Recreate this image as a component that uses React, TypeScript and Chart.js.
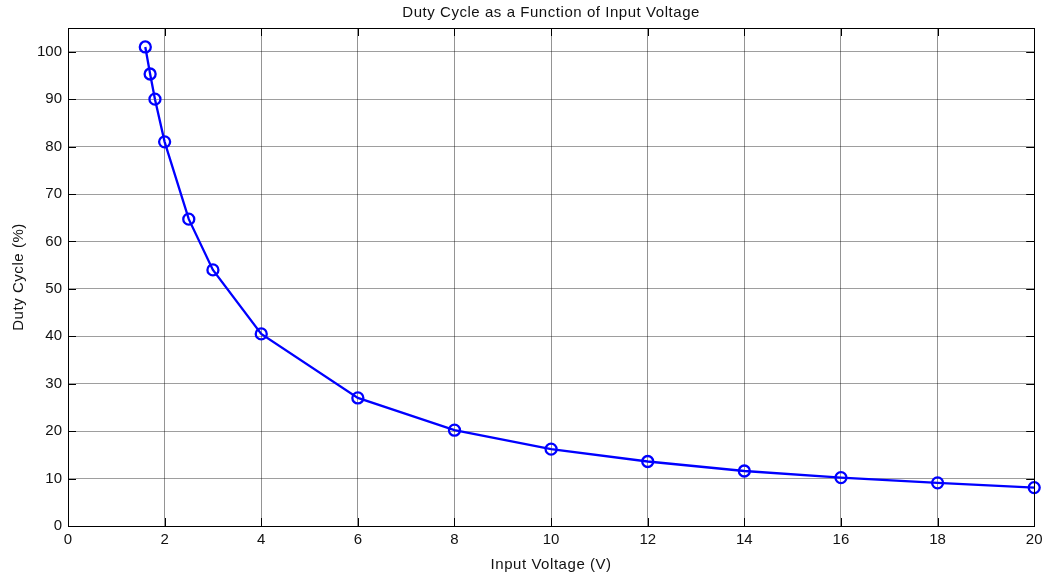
import React, { useEffect, useRef } from "react";
import { Chart, registerables } from "chart.js";

Chart.register(...registerables);

const voltages = [1.6, 1.7, 1.8, 2, 2.5, 3, 4, 6, 8, 10, 12, 14, 16, 18, 20];
const duty = [101, 95.3, 90, 81, 64.7, 54, 40.5, 27, 20.2, 16.2, 13.6, 11.6, 10.2, 9.1, 8.1];
const xTicks = [0, 2, 4, 6, 8, 10, 12, 14, 16, 18, 20];
const yTicks = [0, 10, 20, 30, 40, 50, 60, 70, 80, 90, 100];

const titleText = "Duty Cycle as a Function of Input Voltage";
const xLabel = "Input Voltage (V)";
const yLabel = "Duty Cycle (%)";

const FONT = "'Liberation Sans', Arial, sans-serif";

const framePlugin = {
  id: "frame",
  afterDraw(chart: any) {
    const { ctx, chartArea } = chart;
    const { left, right, top, bottom } = chartArea;
    const xs = chart.scales.x;
    const ys = chart.scales.y;
    ctx.save();
    ctx.strokeStyle = "#000";
    ctx.lineWidth = 1;
    ctx.strokeRect(Math.round(left) + 0.5, Math.round(top) + 0.5, Math.round(right - left), Math.round(bottom - top));
    const tl = 8;
    ctx.beginPath();
    xTicks.forEach((v) => {
      const px = Math.round(xs.getPixelForValue(v)) + 0.5;
      ctx.moveTo(px, bottom);
      ctx.lineTo(px, bottom - tl);
      ctx.moveTo(px, top);
      ctx.lineTo(px, top + tl);
    });
    yTicks.forEach((v) => {
      const py = Math.round(ys.getPixelForValue(v)) + 0.5;
      ctx.moveTo(left, py);
      ctx.lineTo(left + tl, py);
      ctx.moveTo(right, py);
      ctx.lineTo(right - tl, py);
    });
    ctx.stroke();
    ctx.fillStyle = "#111";
    ctx.font = `15px ${FONT}`;
    (ctx as any).letterSpacing = "0.55px";
    ctx.textAlign = "center";
    ctx.textBaseline = "alphabetic";
    ctx.fillText(titleText, (left + right) / 2, 17);
    ctx.fillText(xLabel, (left + right) / 2, 569);
    ctx.translate(23, (top + bottom) / 2);
    ctx.rotate(-Math.PI / 2);
    ctx.fillText(yLabel, 0, 0);
    ctx.restore();
  },
};

export default function App() {
  const canvasRef = useRef<HTMLCanvasElement | null>(null);

  useEffect(() => {
    document.body.style.margin = "0";
    const canvas = canvasRef.current;
    if (!canvas) return;
    const points = voltages.map((v, i) => ({ x: v, y: duty[i] }));
    const chart = new Chart(canvas, {
      type: "line",
      data: {
        datasets: [
          {
            data: points,
            borderColor: "#0000FF",
            borderWidth: 2.3,
            pointRadius: 5.5,
            pointBorderWidth: 2.3,
            pointBorderColor: "#0000FF",
            pointBackgroundColor: "rgba(0,0,0,0)",
            pointHoverRadius: 5.5,
            tension: 0,
            clip: false as any,
          },
        ],
      },
      options: {
        animation: false,
        responsive: false,
        devicePixelRatio: 1,
        layout: { padding: { top: 28, right: 7, bottom: 0, left: 0 } },
        plugins: {
          legend: { display: false },
          title: { display: false },
          tooltip: { enabled: false },
        },
        scales: {
          x: {
            type: "linear",
            min: 0,
            max: 20,
            afterBuildTicks: (s: any) => {
              s.ticks = xTicks.map((v) => ({ value: v }));
            },
            afterFit: (s: any) => {
              s.height = 47;
              s.paddingLeft = 0;
              s.paddingRight = 0;
            },
            grid: { color: "rgba(0,0,0,0.42)", drawTicks: false, lineWidth: 1 },
            border: { display: false },
            ticks: {
              color: "#111",
              padding: 5,
              maxRotation: 0,
              font: { family: FONT, size: 15 },
            },
          },
          y: {
            type: "linear",
            min: 0,
            max: 105,
            afterBuildTicks: (s: any) => {
              s.ticks = yTicks.map((v) => ({ value: v }));
            },
            afterFit: (s: any) => {
              s.width = 68;
              s.paddingTop = 0;
              s.paddingBottom = 0;
            },
            grid: { color: "rgba(0,0,0,0.38)", drawTicks: false, lineWidth: 1 },
            border: { display: false },
            ticks: {
              color: "#111",
              padding: 6,
              font: { family: FONT, size: 15 },
            },
          },
        },
      },
      plugins: [framePlugin],
    });
    return () => chart.destroy();
  }, []);

  return (
    <div style={{ width: 1042, height: 573, background: "#fff" }}>
      <canvas ref={canvasRef} width={1042} height={573} style={{ display: "block" }} />
    </div>
  );
}
